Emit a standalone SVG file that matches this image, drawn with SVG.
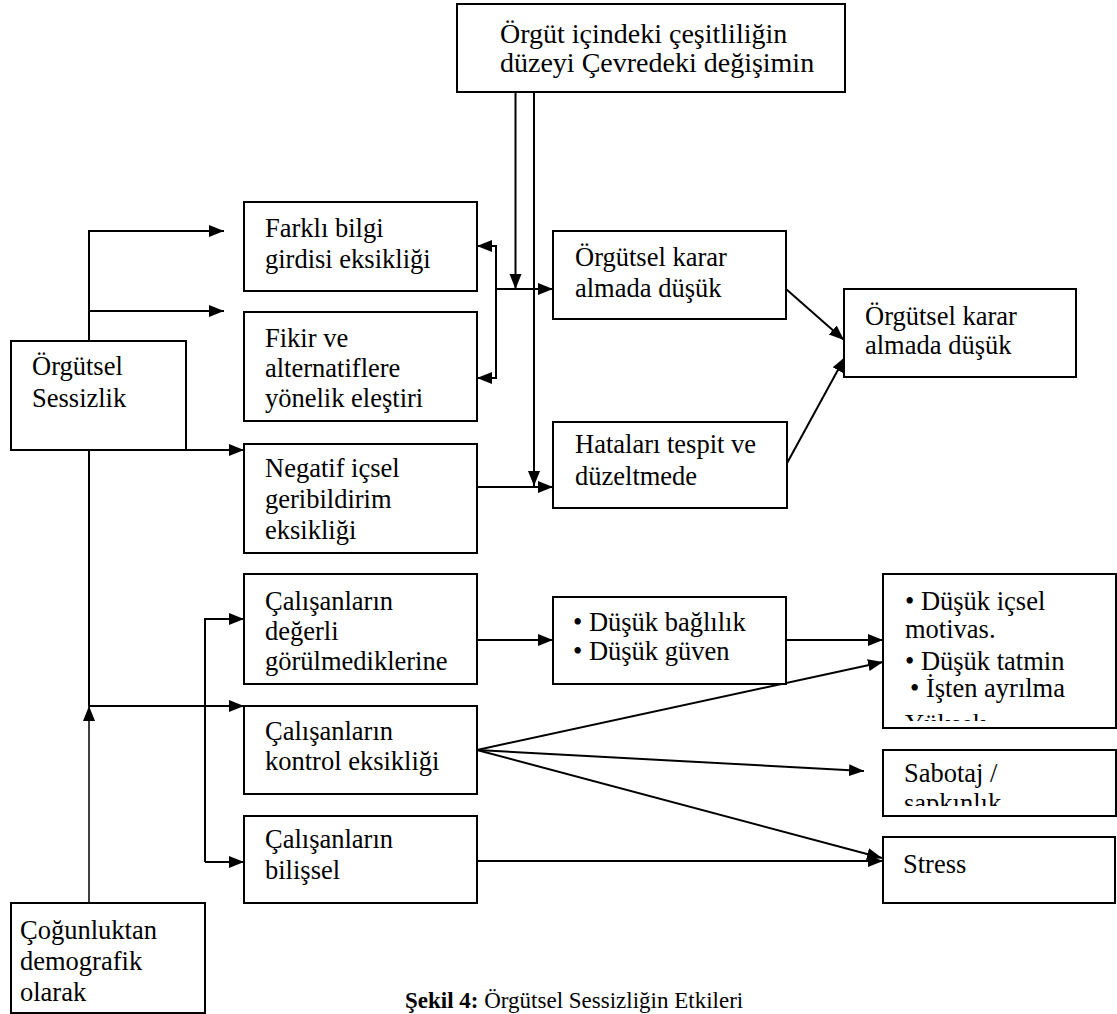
<svg xmlns="http://www.w3.org/2000/svg" width="1117" height="1014" viewBox="0 0 1117 1014" font-family="Liberation Serif, Times New Roman, serif">
<style>
.box{fill:#fff;stroke:#000;stroke-width:2}
.t{font-family:"Liberation Serif","Times New Roman",serif;font-size:26.5px;fill:#000}
.big{font-size:28px}
.cap{font-family:"Liberation Serif","Times New Roman",serif;font-size:23px;fill:#000}
.ln{fill:none;stroke:#000;stroke-width:2}
.thin{fill:none;stroke:#000;stroke-width:1.5}
</style>
<defs>
<marker id="ah" markerUnits="userSpaceOnUse" markerWidth="16" markerHeight="13" refX="15" refY="6" orient="auto">
<path d="M0,0 L15,6 L0,12 z" fill="#000"/>
</marker>
<clipPath id="cBullet"><rect x="884" y="575" width="231" height="146"/></clipPath>
<clipPath id="cSab"><rect x="884" y="751" width="231" height="55"/></clipPath>
</defs>
<rect width="1117" height="1014" fill="#fff"/>

<g id="connectors">
<path class="ln" d="M89,341 V231 H224" marker-end="url(#ah)"/>
<path class="ln" d="M89,311 H224" marker-end="url(#ah)"/>
<path class="ln" d="M186,450 H244" marker-end="url(#ah)"/>
<path class="ln" d="M89,450 V706"/>
<path class="thin" d="M89,903 V706" marker-end="url(#ah)"/>
<path class="ln" d="M89,706 H244" marker-end="url(#ah)"/>
<path class="ln" d="M205,862 V619 H244" marker-end="url(#ah)"/>
<path class="ln" d="M205,862 H244" marker-end="url(#ah)"/>
<path class="ln" d="M515.5,92 V289" marker-end="url(#ah)"/>
<path class="ln" d="M534,92 V486" marker-end="url(#ah)"/>
<path class="ln" d="M496,289 V246 H477" marker-end="url(#ah)"/>
<path class="ln" d="M496,289 V378 H477" marker-end="url(#ah)"/>
<path class="ln" d="M496,289 H553" marker-end="url(#ah)"/>
<path class="ln" d="M477,487 H553" marker-end="url(#ah)"/>
<path class="ln" d="M786,289 L844,340" marker-end="url(#ah)"/>
<path class="ln" d="M786,465 L845,357" marker-end="url(#ah)"/>
<path class="ln" d="M477,640 H553" marker-end="url(#ah)"/>
<path class="ln" d="M786,640 H883" marker-end="url(#ah)"/>
<path class="ln" d="M477,750 L883,662" marker-end="url(#ah)"/>
<path class="ln" d="M477,750 L864,771" marker-end="url(#ah)"/>
<path class="ln" d="M477,750 L882,858" marker-end="url(#ah)"/>
<path class="ln" d="M477,861 H883" marker-end="url(#ah)"/>
</g>

<g id="n-top">
<rect class="box" x="457" y="4" width="388" height="88"/>
<text class="t big" x="500" y="43">Örgüt içindeki çeşitliliğin</text>
<text class="t big" x="500" y="72">düzeyi Çevredeki değişimin</text>
</g>

<g id="n-farkli">
<rect class="box" x="244" y="202" width="233" height="89"/>
<text class="t" x="265" y="237">Farklı bilgi</text>
<text class="t" x="265" y="268">girdisi eksikliği</text>
</g>

<g id="n-fikir">
<rect class="box" x="244" y="312" width="233" height="109"/>
<text class="t" x="265" y="347">Fikir ve</text>
<text class="t" x="265" y="377">alternatiflere</text>
<text class="t" x="265" y="407">yönelik eleştiri</text>
</g>

<g id="n-sessizlik">
<rect class="box" x="11" y="341" width="175" height="109"/>
<text class="t" x="32" y="375">Örgütsel</text>
<text class="t" x="32" y="407">Sessizlik</text>
</g>

<g id="n-negatif">
<rect class="box" x="244" y="444" width="233" height="109"/>
<text class="t" x="265" y="477">Negatif içsel</text>
<text class="t" x="265" y="508">geribildirim</text>
<text class="t" x="265" y="539">eksikliği</text>
</g>

<g id="n-degerli">
<rect class="box" x="244" y="574" width="233" height="110"/>
<text class="t" x="265" y="610">Çalışanların</text>
<text class="t" x="265" y="640">değerli</text>
<text class="t" x="265" y="670">görülmediklerine</text>
</g>

<g id="n-kontrol">
<rect class="box" x="244" y="706" width="233" height="88"/>
<text class="t" x="265" y="740">Çalışanların</text>
<text class="t" x="265" y="770">kontrol eksikliği</text>
</g>

<g id="n-bilissel">
<rect class="box" x="244" y="816" width="233" height="87"/>
<text class="t" x="265" y="848">Çalışanların</text>
<text class="t" x="265" y="879">bilişsel</text>
</g>

<g id="n-cogunluk">
<rect class="box" x="11" y="903" width="194" height="110"/>
<text class="t" x="20" y="939">Çoğunluktan</text>
<text class="t" x="20" y="970">demografik</text>
<text class="t" x="20" y="1001">olarak</text>
</g>

<g id="n-karar1">
<rect class="box" x="553" y="231" width="233" height="88"/>
<text class="t" x="575" y="266">Örgütsel karar</text>
<text class="t" x="575" y="297">almada düşük</text>
</g>

<g id="n-hatalar">
<rect class="box" x="553" y="422" width="234" height="86"/>
<text class="t" x="575" y="453">Hataları tespit ve</text>
<text class="t" x="575" y="485">düzeltmede</text>
</g>

<g id="n-karar2">
<rect class="box" x="844" y="289" width="232" height="88"/>
<text class="t" x="865" y="325">Örgütsel karar</text>
<text class="t" x="865" y="354">almada düşük</text>
</g>

<g id="n-baglilik">
<rect class="box" x="553" y="597" width="233" height="87"/>
<text class="t" x="573" y="631">• Düşük bağlılık</text>
<text class="t" x="573" y="660">• Düşük güven</text>
</g>

<g id="n-bullets">
<rect class="box" x="883" y="574" width="233" height="154"/>
<g clip-path="url(#cBullet)">
<text class="t" x="905" y="610">• Düşük içsel</text>
<text class="t" x="905" y="638">motivas.</text>
<text class="t" x="905" y="670">• Düşük tatmin</text>
<text class="t" x="910" y="697">• İşten ayrılma</text>
<text class="t" x="905" y="733">Yüksek</text>
</g>
</g>

<g id="n-sabotaj">
<rect class="box" x="883" y="750" width="233" height="66"/>
<g clip-path="url(#cSab)">
<text class="t" x="904" y="782">Sabotaj /</text>
<text class="t" x="904" y="812">sapkınlık</text>
</g>
</g>

<g id="n-stress">
<rect class="box" x="883" y="837" width="232" height="66"/>
<text class="t" x="903" y="873">Stress</text>
</g>

<text class="cap" x="405" y="1008"><tspan font-weight="bold">Şekil 4:</tspan> Örgütsel Sessizliğin Etkileri</text>
</svg>
